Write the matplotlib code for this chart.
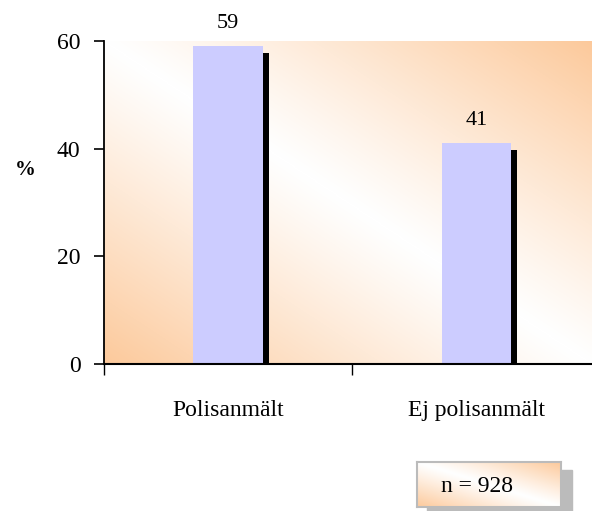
import matplotlib.pyplot as plt
import numpy as np
from matplotlib.colors import LinearSegmentedColormap
from matplotlib.patches import Rectangle

categories = ['Polisanmält', 'Ej polisanmält']
values = [59, 41]
n_total = 928

plt.rcParams['font.family'] = ['Liberation Serif', 'DejaVu Serif']

fig = plt.figure(figsize=(5.92, 5.11), dpi=100)
ax = fig.add_axes([104/592, 1-364/511, 488/592, 323/511])

# diagonal orange/white background
orange = (0.99, 0.79, 0.61)
cm = LinearSegmentedColormap.from_list('bg', [(1, 1, 1), orange])
u, v = np.meshgrid(np.linspace(0, 1, 300), np.linspace(0, 1, 300))
t = np.abs(u + v - 1) ** 1.1
xlim = (-0.5, 1.465)
ylim = (0, 60)
ax.imshow(t, cmap=cm, origin='lower', extent=(*xlim, *ylim),
          aspect='auto', zorder=0, vmin=0, vmax=1)

x = np.arange(len(categories))
w = 0.28
ax.bar(x + 0.024, np.array(values) - 0.9, bottom=-0.3, width=w,
       color='black', zorder=2)
ax.bar(x, values, width=w, color='#CCCCFF', zorder=3)
for xi, val in zip(x, values):
    ax.text(xi, val + 2.4, str(val), ha='center', va='bottom', fontsize=16)

ax.set_xlim(*xlim)
ax.set_ylim(*ylim)
ax.set_yticks([0, 20, 40, 60])
ax.tick_params(axis='y', labelsize=17, length=7, width=1.2, pad=10)
ax.set_xticks([-0.5, 0.5])
ax.set_xticklabels([])
ax.set_xticks(x, minor=True)
ax.set_xticklabels(categories, minor=True)
ax.tick_params(axis='x', which='major', length=8, width=1)
ax.tick_params(axis='x', which='minor', length=0, labelsize=17, pad=26)
for s in ['top', 'right']:
    ax.spines[s].set_visible(False)
ax.spines['left'].set_linewidth(1.3)
ax.spines['bottom'].set_linewidth(1.5)
ax.spines['bottom'].set_zorder(4)

fig.text(25/592, 1-170/511, '%', fontsize=15, fontweight='bold',
         ha='center', va='center')

# n box with shadow
fig.patches.append(Rectangle((427/592, 1-516/511), 145/592, 46/511,
                             transform=fig.transFigure, color='#BBBBBB',
                             zorder=-1))
bax = fig.add_axes([417/592, 1-507/511, 144/592, 45/511])
bax.set_zorder(5)
bu, bv = np.meshgrid(np.linspace(0, 1, 100), np.linspace(0, 1, 100))
bt = np.abs(bu + bv - 1) ** 1.1
bax.imshow(bt, cmap=cm, origin='lower', extent=(0, 1, 0, 1),
           aspect='auto', vmin=0, vmax=1)
bax.set_xticks([])
bax.set_yticks([])
for s in bax.spines.values():
    s.set_color('#BBBBBB')
    s.set_linewidth(1.5)
bax.text(0.42, 0.45, f'n = {n_total}', ha='center', va='center',
         fontsize=17, transform=bax.transAxes)

fig.savefig('out.png', dpi=100)
